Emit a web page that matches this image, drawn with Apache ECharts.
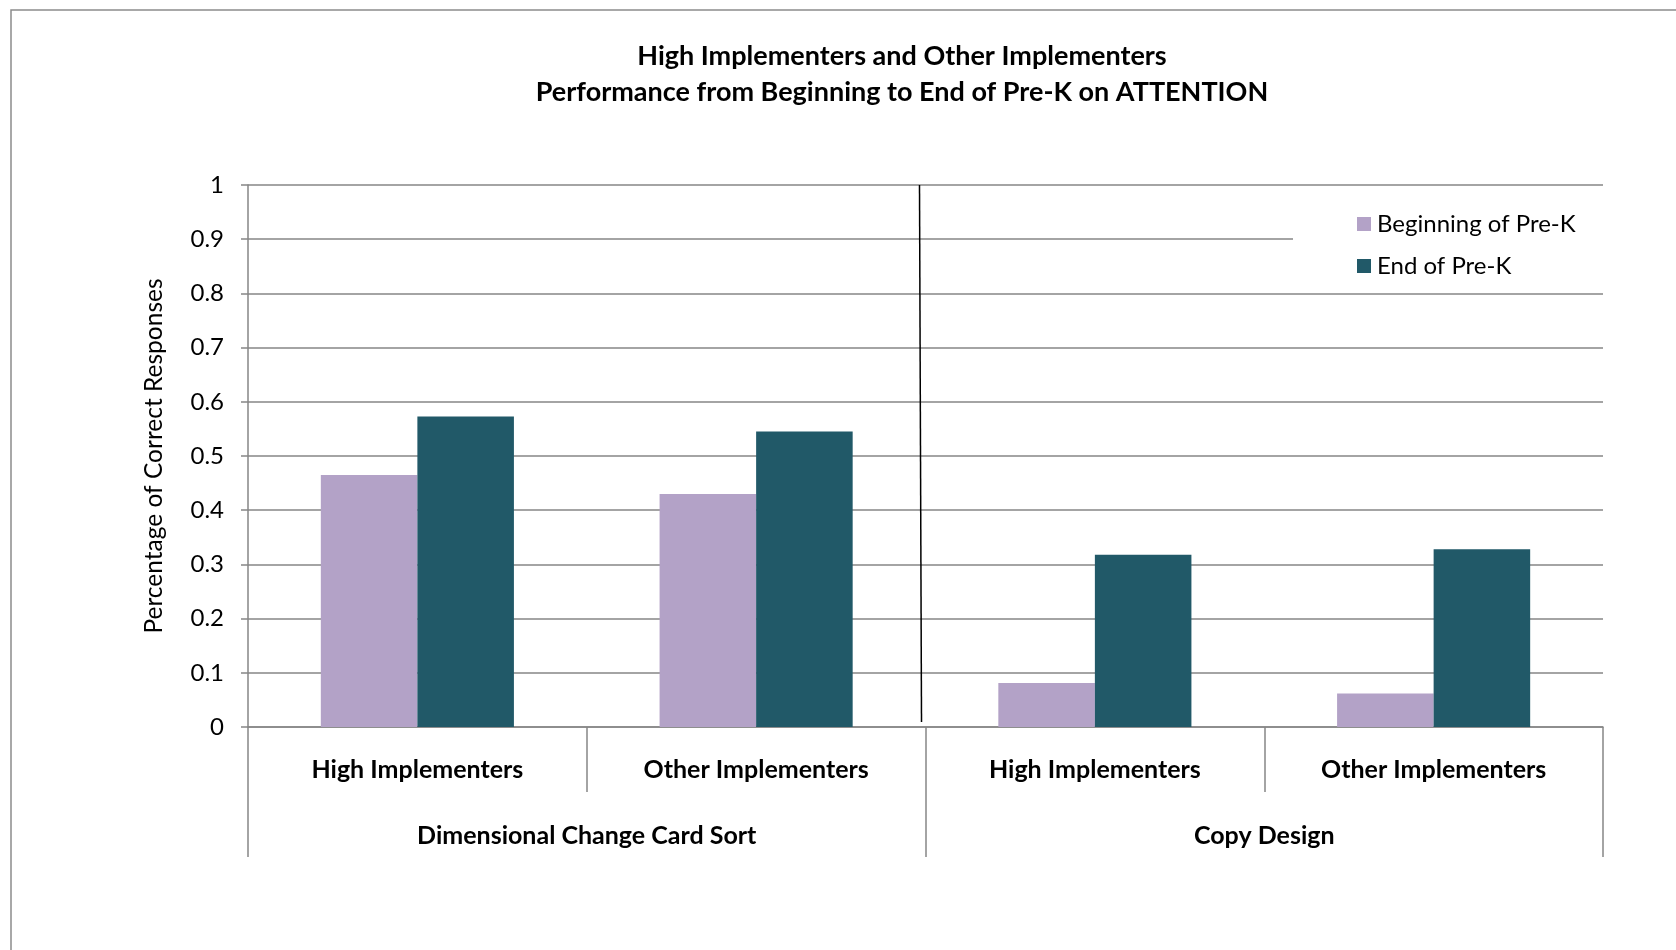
<!DOCTYPE html>
<html>
<head>
<meta charset="utf-8">
<script src="https://cdn.jsdelivr.net/npm/echarts@6/dist/echarts.min.js"></script>
<style>
html,body{margin:0;padding:0;background:#fff;}
#main{width:1676px;height:950px;}
</style>
</head>
<body>
<div id="main"></div>
<script>
const titleLines = ['High Implementers and Other Implementers', 'Performance from Beginning to End of Pre-K on ATTENTION'];
const categories = ['High Implementers', 'Other Implementers', 'High Implementers', 'Other Implementers'];
const groups = ['Dimensional Change Card Sort', 'Copy Design'];
const seriesNames = ['Beginning of Pre-K', 'End of Pre-K'];
const beginning = [0.465, 0.430, 0.081, 0.062];
const endOfPreK = [0.573, 0.545, 0.318, 0.328];
const yAxisName = 'Percentage of Correct Responses';

const FONT = 'Lato';
const GRAY = '#868686';
const chart = echarts.init(document.getElementById('main'));
const option = {
  backgroundColor: '#fff',
  animation: false,
  textStyle: { fontFamily: FONT, color: '#000' },
  title: {
    text: titleLines.join('\n'),
    left: 897, top: 33, textAlign: 'center',
    textStyle: { fontFamily: FONT, fontSize: 27, fontWeight: 'bold', color: '#000', lineHeight: 36 }
  },
  legend: {
    orient: 'vertical',
    left: 1293, top: 202,
    padding: [10, 70, 10, 64],
    backgroundColor: '#fff',
    itemWidth: 14, itemHeight: 14, itemGap: 18,
    icon: 'rect',
    textStyle: { fontFamily: FONT, fontSize: 24, color: '#000', padding: [0, 0, 0, 1] },
    data: seriesNames
  },
  grid: { left: 248, right: 73, top: 185, bottom: 223, containLabel: false },
  xAxis: [
    {
      type: 'category', data: categories, position: 'bottom',
      axisLine: { show: true, lineStyle: { color: GRAY, width: 1.5 } },
      axisTick: { show: true, length: 65, interval: 0, lineStyle: { color: GRAY, width: 1.5 } },
      axisLabel: { interval: 0, margin: 30, fontFamily: FONT, fontSize: 25, fontWeight: 'bold', color: '#000' }
    },
    {
      type: 'category', data: groups, position: 'bottom',
      axisLine: { show: false },
      axisTick: { show: true, length: 130, interval: 0, lineStyle: { color: GRAY, width: 1.5 } },
      axisLabel: { interval: 0, margin: 96, fontFamily: FONT, fontSize: 25, fontWeight: 'bold', color: '#000' }
    }
  ],
  yAxis: {
    type: 'value', min: 0, max: 1, interval: 0.1,
    name: yAxisName, nameLocation: 'middle', nameRotate: 90, nameGap: 81,
    nameTextStyle: { fontFamily: FONT, fontSize: 24.5, color: '#000' },
    axisLine: { show: true, lineStyle: { color: GRAY, width: 1.5 } },
    axisTick: { show: true, length: 7, lineStyle: { color: GRAY, width: 1.5 } },
    axisLabel: { margin: 24, fontFamily: FONT, fontSize: 24, color: '#000' },
    splitLine: { show: true, lineStyle: { color: GRAY, width: 1.5 } }
  },
  series: [
    { name: seriesNames[0], type: 'bar', data: beginning, barGap: '0%', barCategoryGap: '43%',
      itemStyle: { color: '#B3A2C7' } },
    { name: seriesNames[1], type: 'bar', data: endOfPreK, barGap: '0%', barCategoryGap: '43%',
      itemStyle: { color: '#215968' } }
  ]
};
chart.setOption(option);

// divider between the two test groups and outer frame
const p1 = chart.convertToPixel({ xAxisIndex: 0 }, 1);
const p2 = chart.convertToPixel({ xAxisIndex: 0 }, 2);
const bx = (p1 + p2) / 2;
const yTop = chart.convertToPixel({ yAxisIndex: 0 }, 1);
const yBot = chart.convertToPixel({ yAxisIndex: 0 }, 0);
chart.setOption({
  graphic: [
    { type: 'line', z: 10, shape: { x1: bx - 6, y1: yTop, x2: bx - 4, y2: yBot - 5 },
      style: { stroke: '#000', lineWidth: 1.5 } },
    { type: 'rect', z: -1, shape: { x: 11, y: 10, width: 1800, height: 1100 },
      style: { fill: 'none', stroke: '#8c8c8c', lineWidth: 1.5 } }
  ]
});
</script>
</body>
</html>
